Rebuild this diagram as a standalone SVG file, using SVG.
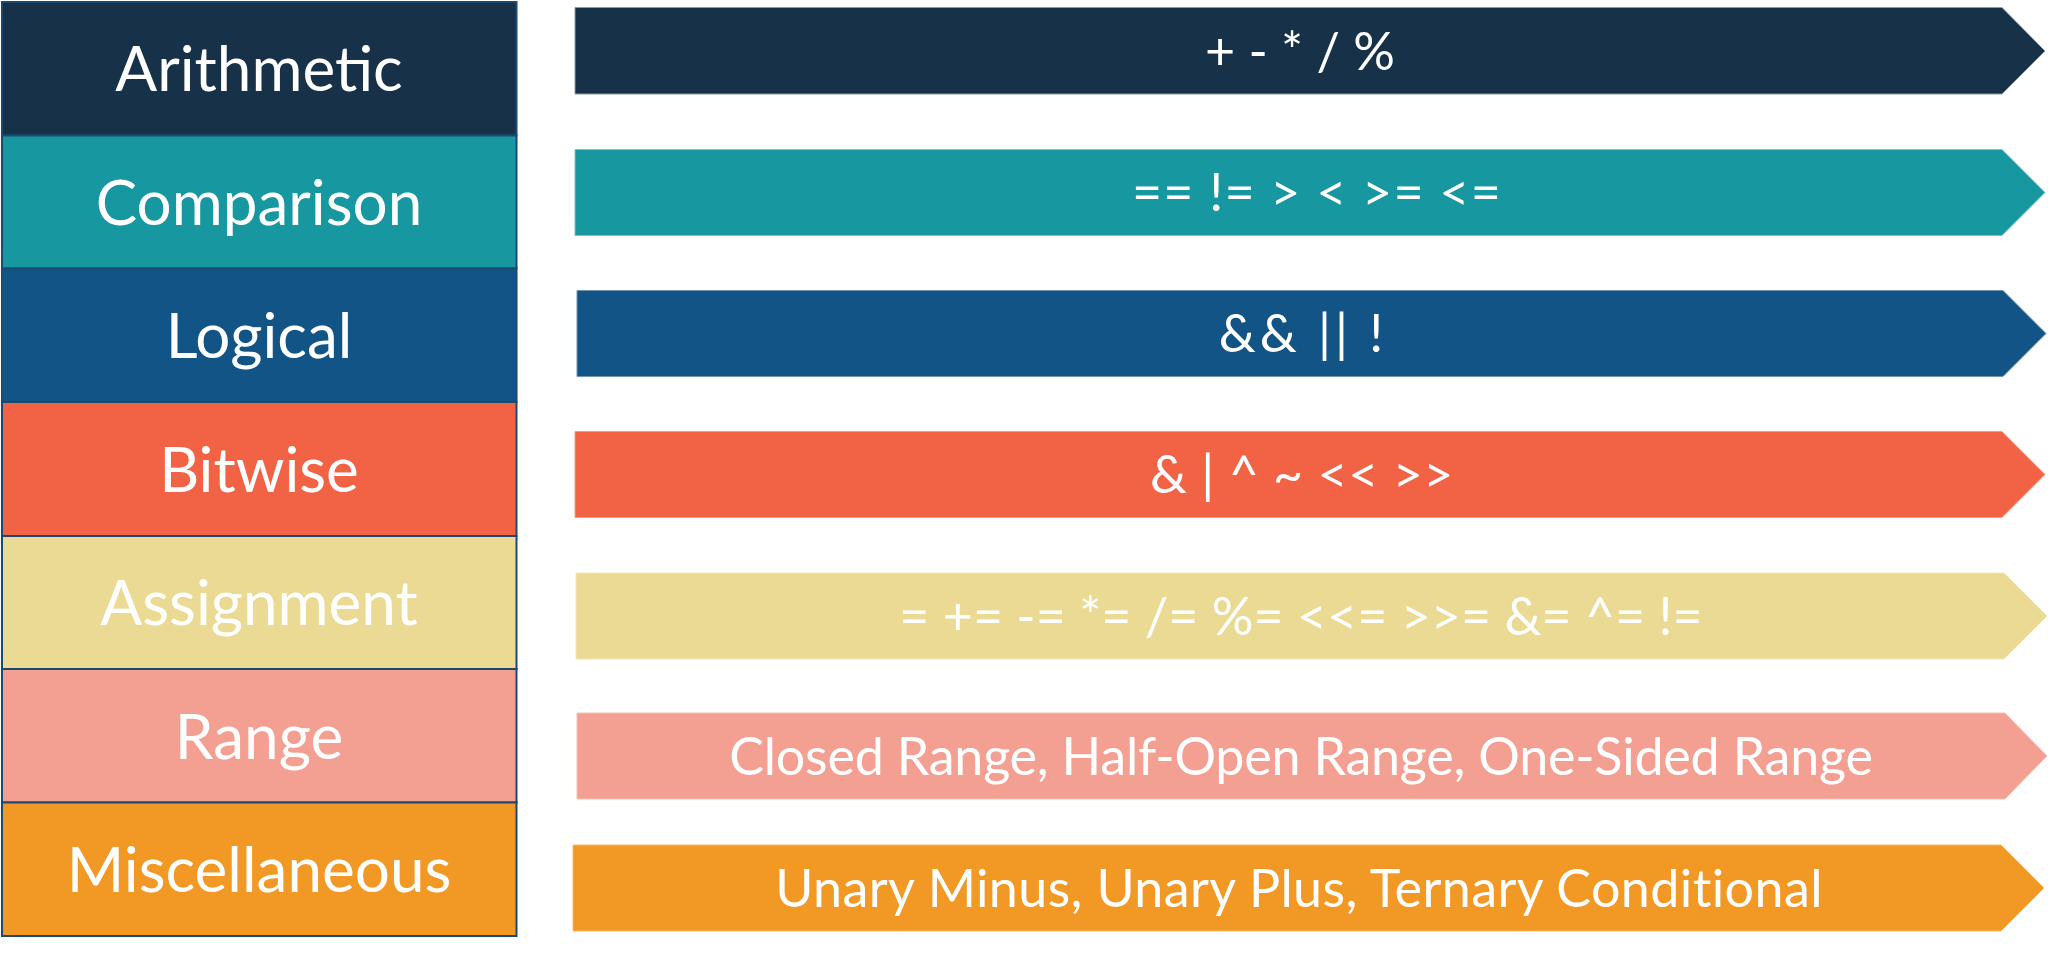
<svg xmlns="http://www.w3.org/2000/svg" width="2048" height="956" viewBox="0 0 2048 956">
<style>
.lbl{font-family:Lato,"Open Sans",sans-serif;font-size:62px;fill:#ffffff;text-anchor:middle}
.op{font-family:Lato,"Open Sans",sans-serif;font-size:52px;fill:#ffffff;text-anchor:middle}
.box{stroke:#1c4a6e;stroke-width:2}
.arr{stroke-width:1}
</style>
<rect width="2048" height="956" fill="#ffffff"/>
<g id="categories">
<g id="cat-arithmetic"><rect class="box" x="2" y="2" width="514.5" height="133.5" fill="#163148"/><text class="lbl" x="259" y="91">Arithmetic</text></g>
<g id="cat-comparison"><rect class="box" x="2" y="135.5" width="514.5" height="133" fill="#1797a0"/><text class="lbl" x="259" y="224.5">Comparison</text></g>
<g id="cat-logical"><rect class="box" x="2" y="268.5" width="514.5" height="133.5" fill="#125486"/><text class="lbl" x="259" y="358">Logical</text></g>
<g id="cat-bitwise"><rect class="box" x="2" y="402" width="514.5" height="134" fill="#f26345"/><text class="lbl" x="259" y="492">Bitwise</text></g>
<g id="cat-assignment"><rect class="box" x="2" y="536" width="514.5" height="133" fill="#eada94"/><text class="lbl" x="259" y="625">Assignment</text></g>
<g id="cat-range"><rect class="box" x="2" y="669" width="514.5" height="133.5" fill="#f3a092"/><text class="lbl" x="259" y="758.5">Range</text></g>
<g id="cat-misc"><rect class="box" x="2" y="802.5" width="514.5" height="133.5" fill="#f29824"/><text class="lbl" x="259" y="892">Miscellaneous</text></g>
</g>
<g id="connectors"></g>
<g id="operators">
<g id="op-arithmetic"><polygon class="arr" points="575,7.5 2002,7.5 2045,51 2002,94 575,94" fill="#163148" stroke="#8a9aaa"/><text class="op" x="1300" y="70">+ - * / %</text></g>
<g id="op-comparison"><polygon class="arr" points="575,149.5 2002,149.5 2045,192.5 2002,235.5 575,235.5" fill="#1797a0" stroke="#7cc2c8"/><text class="op" x="1317" y="211" letter-spacing="1.2">== != &gt; &lt; &gt;= &lt;=</text></g>
<g id="op-logical"><polygon class="arr" points="577,290.5 2003,290.5 2046,333.5 2003,376.5 577,376.5" fill="#125486" stroke="#6f93b3"/><text class="op" x="1303" y="352" letter-spacing="4">&amp;&amp; || !</text></g>
<g id="op-bitwise"><polygon class="arr" points="575,431.5 2002,431.5 2045,474.5 2002,517.5 575,517.5" fill="#f26345" stroke="#f79a85"/><text class="op" x="1302" y="493" letter-spacing="0.5">&amp; | ^ ~ &lt;&lt; &gt;&gt;</text></g>
<g id="op-assignment"><polygon class="arr" points="576,573 2004,573 2047,616 2004,659 576,659" fill="#eada94" stroke="#f2e6b8"/><text class="op" x="1301" y="634.5" font-size="50">= += -= *= /= %= &lt;&lt;= &gt;&gt;= &amp;= ^= !=</text></g>
<g id="op-range"><polygon class="arr" points="577,713 2005,713 2047,756 2005,799 577,799" fill="#f3a092" stroke="#f7c0b5"/><text class="op" x="1301" y="774.5" letter-spacing="-0.2">Closed Range, Half-Open Range, One-Sided Range</text></g>
<g id="op-misc"><polygon class="arr" points="573,845 2001,845 2044,888 2001,931 573,931" fill="#f29824" stroke="#f6b76a"/><text class="op" x="1299" y="906.5" letter-spacing="0.4">Unary Minus, Unary Plus, Ternary Conditional</text></g>
</g>
</svg>
